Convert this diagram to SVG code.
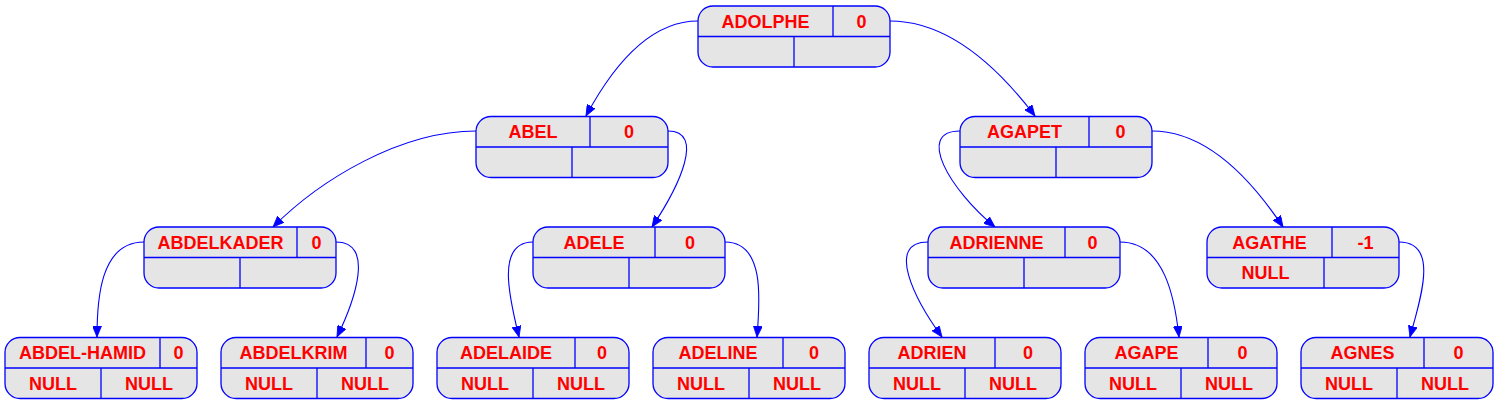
<svg xmlns="http://www.w3.org/2000/svg" width="1499" height="405" viewBox="0 0 1499 405">
<style>
.box{fill:#e5e5e5;stroke:#0000ff;stroke-width:1.3}
.ln{stroke:#0000ff;stroke-width:1.3}
.t{font-family:"Liberation Sans",Arial,sans-serif;font-weight:bold;font-size:18px;fill:#ff0000;text-anchor:middle}
.e{fill:none;stroke:#0000ff;stroke-width:1.1;marker-end:url(#ah)}
</style>
<defs>
<marker id="ah" markerWidth="11" markerHeight="9" refX="11" refY="4.5" orient="auto" markerUnits="userSpaceOnUse">
<path d="M0,0 L11,4.5 L0,9 Z" fill="#0000ff" stroke="#0000ff" stroke-width="0.8"/>
</marker>
</defs>
<rect width="1499" height="405" fill="#ffffff"/>
<g id="connectors">
<path class="e" d="M698,21 C645,21 608,75 586,116"/>
<path class="e" d="M890,21 C950,21 1000,70 1035,116"/>
<path class="e" d="M476,131 C400,131 320,180 273,227"/>
<path class="e" d="M668,131 C705,131 680,185 652,227"/>
<path class="e" d="M960,131 C915,131 950,190 995,227"/>
<path class="e" d="M1152,131 C1210,131 1255,185 1283,227"/>
<path class="e" d="M144,242 C100,242 97,300 97,337"/>
<path class="e" d="M336,242 C375,242 355,300 337,337"/>
<path class="e" d="M533,242 C495,242 510,300 519,337"/>
<path class="e" d="M725,242 C765,242 760,300 757,337"/>
<path class="e" d="M928,242 C885,242 915,300 942,337"/>
<path class="e" d="M1120,242 C1165,242 1175,300 1179,337"/>
<path class="e" d="M1399,242 C1440,242 1420,300 1410,337"/>
</g>
<g id="n-adolphe"><rect class="box" x="698" y="6" width="192" height="61" rx="15"/><line class="ln" x1="698" y1="36.5" x2="890" y2="36.5"/><line class="ln" x1="833" y1="6" x2="833" y2="36.5"/><line class="ln" x1="794" y1="36.5" x2="794" y2="67"/><text class="t" x="765.5" y="27.5">ADOLPHE</text><text class="t" x="861.5" y="27.5">0</text></g>
<g id="n-abel"><rect class="box" x="476" y="116.5" width="192" height="61" rx="15"/><line class="ln" x1="476" y1="147" x2="668" y2="147"/><line class="ln" x1="590" y1="116.5" x2="590" y2="147"/><line class="ln" x1="572" y1="147" x2="572" y2="177.5"/><text class="t" x="533" y="138">ABEL</text><text class="t" x="629" y="138">0</text></g>
<g id="n-agapet"><rect class="box" x="960" y="116.5" width="192" height="61" rx="15"/><line class="ln" x1="960" y1="147" x2="1152" y2="147"/><line class="ln" x1="1089" y1="116.5" x2="1089" y2="147"/><line class="ln" x1="1056" y1="147" x2="1056" y2="177.5"/><text class="t" x="1024.5" y="138">AGAPET</text><text class="t" x="1120.5" y="138">0</text></g>
<g id="n-abdelkader"><rect class="box" x="144" y="227" width="192" height="61" rx="15"/><line class="ln" x1="144" y1="257.5" x2="336" y2="257.5"/><line class="ln" x1="297" y1="227" x2="297" y2="257.5"/><line class="ln" x1="240" y1="257.5" x2="240" y2="288"/><text class="t" x="220.5" y="248.5">ABDELKADER</text><text class="t" x="316.5" y="248.5">0</text></g>
<g id="n-adele"><rect class="box" x="533" y="227" width="192" height="61" rx="15"/><line class="ln" x1="533" y1="257.5" x2="725" y2="257.5"/><line class="ln" x1="655" y1="227" x2="655" y2="257.5"/><line class="ln" x1="629" y1="257.5" x2="629" y2="288"/><text class="t" x="594" y="248.5">ADELE</text><text class="t" x="690" y="248.5">0</text></g>
<g id="n-adrienne"><rect class="box" x="928" y="227" width="192" height="61" rx="15"/><line class="ln" x1="928" y1="257.5" x2="1120" y2="257.5"/><line class="ln" x1="1065" y1="227" x2="1065" y2="257.5"/><line class="ln" x1="1024" y1="257.5" x2="1024" y2="288"/><text class="t" x="996.5" y="248.5">ADRIENNE</text><text class="t" x="1092.5" y="248.5">0</text></g>
<g id="n-agathe"><rect class="box" x="1207" y="227" width="192" height="61" rx="15"/><line class="ln" x1="1207" y1="257.5" x2="1399" y2="257.5"/><line class="ln" x1="1332" y1="227" x2="1332" y2="257.5"/><line class="ln" x1="1324" y1="257.5" x2="1324" y2="288"/><text class="t" x="1269.5" y="248.5">AGATHE</text><text class="t" x="1365.5" y="248.5">-1</text><text class="t" x="1265.5" y="279">NULL</text></g>
<g id="n-abdel-hamid"><rect class="box" x="5" y="337.5" width="192" height="61" rx="15"/><line class="ln" x1="5" y1="368" x2="197" y2="368"/><line class="ln" x1="160" y1="337.5" x2="160" y2="368"/><line class="ln" x1="101" y1="368" x2="101" y2="398.5"/><text class="t" x="82.5" y="359">ABDEL-HAMID</text><text class="t" x="178.5" y="359">0</text><text class="t" x="53" y="389.5">NULL</text><text class="t" x="149" y="389.5">NULL</text></g>
<g id="n-abdelkrim"><rect class="box" x="221" y="337.5" width="192" height="61" rx="15"/><line class="ln" x1="221" y1="368" x2="413" y2="368"/><line class="ln" x1="366" y1="337.5" x2="366" y2="368"/><line class="ln" x1="317" y1="368" x2="317" y2="398.5"/><text class="t" x="293.5" y="359">ABDELKRIM</text><text class="t" x="389.5" y="359">0</text><text class="t" x="269" y="389.5">NULL</text><text class="t" x="365" y="389.5">NULL</text></g>
<g id="n-adelaide"><rect class="box" x="437" y="337.5" width="192" height="61" rx="15"/><line class="ln" x1="437" y1="368" x2="629" y2="368"/><line class="ln" x1="575" y1="337.5" x2="575" y2="368"/><line class="ln" x1="533" y1="368" x2="533" y2="398.5"/><text class="t" x="506" y="359">ADELAIDE</text><text class="t" x="602" y="359">0</text><text class="t" x="485" y="389.5">NULL</text><text class="t" x="581" y="389.5">NULL</text></g>
<g id="n-adeline"><rect class="box" x="653" y="337.5" width="192" height="61" rx="15"/><line class="ln" x1="653" y1="368" x2="845" y2="368"/><line class="ln" x1="783" y1="337.5" x2="783" y2="368"/><line class="ln" x1="749" y1="368" x2="749" y2="398.5"/><text class="t" x="718" y="359">ADELINE</text><text class="t" x="814" y="359">0</text><text class="t" x="701" y="389.5">NULL</text><text class="t" x="797" y="389.5">NULL</text></g>
<g id="n-adrien"><rect class="box" x="869" y="337.5" width="192" height="61" rx="15"/><line class="ln" x1="869" y1="368" x2="1061" y2="368"/><line class="ln" x1="995" y1="337.5" x2="995" y2="368"/><line class="ln" x1="965" y1="368" x2="965" y2="398.5"/><text class="t" x="932" y="359">ADRIEN</text><text class="t" x="1028" y="359">0</text><text class="t" x="917" y="389.5">NULL</text><text class="t" x="1013" y="389.5">NULL</text></g>
<g id="n-agape"><rect class="box" x="1085" y="337.5" width="192" height="61" rx="15"/><line class="ln" x1="1085" y1="368" x2="1277" y2="368"/><line class="ln" x1="1208" y1="337.5" x2="1208" y2="368"/><line class="ln" x1="1181" y1="368" x2="1181" y2="398.5"/><text class="t" x="1146.5" y="359">AGAPE</text><text class="t" x="1242.5" y="359">0</text><text class="t" x="1133" y="389.5">NULL</text><text class="t" x="1229" y="389.5">NULL</text></g>
<g id="n-agnes"><rect class="box" x="1301" y="337.5" width="192" height="61" rx="15"/><line class="ln" x1="1301" y1="368" x2="1493" y2="368"/><line class="ln" x1="1424" y1="337.5" x2="1424" y2="368"/><line class="ln" x1="1397" y1="368" x2="1397" y2="398.5"/><text class="t" x="1362.5" y="359">AGNES</text><text class="t" x="1458.5" y="359">0</text><text class="t" x="1349" y="389.5">NULL</text><text class="t" x="1445" y="389.5">NULL</text></g>
</svg>
